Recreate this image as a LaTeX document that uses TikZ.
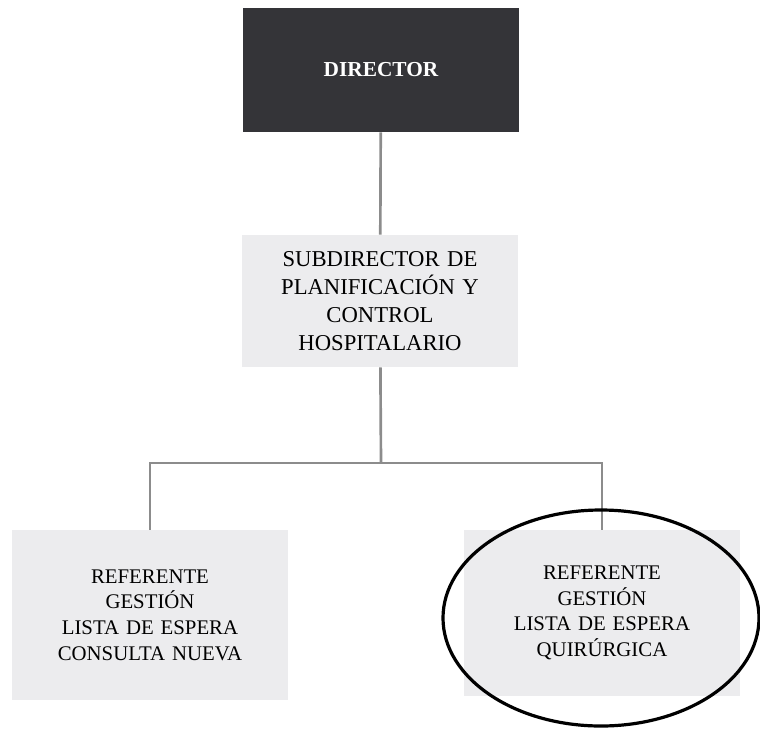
\documentclass[tikz,border=0pt]{standalone}
\usepackage{fontspec}
\setmainfont{Liberation Serif}
\usepackage{xcolor}
\usepackage{tikz}
\usetikzlibrary{shapes,arrows,positioning,calc}
\definecolor{dirgray}{RGB}{52,52,56}
\definecolor{boxgray}{RGB}{236,236,238}
\definecolor{linegray}{RGB}{140,140,140}
\tikzset{
    jefe/.style={rectangle, fill=dirgray, text=white, font=\fontsize{16}{19}\selectfont\bfseries, minimum width=207pt, minimum height=93pt, text centered},
    unidad/.style={rectangle, fill=boxgray, font=\fontsize{17}{21.2}\selectfont, text width=200pt, align=center, minimum width=206pt, minimum height=99pt},
    referente/.style={rectangle, fill=boxgray, font=\fontsize{15.6}{19.2}\selectfont, text width=200pt, align=center, minimum width=206pt, minimum height=127pt},
    line/.style={draw=linegray, line width=2pt},
    marca/.style={ellipse, draw=black, line width=2.4pt, minimum width=237pt, minimum height=162pt}
}
\begin{document}
\begin{tikzpicture}[x=0.75pt,y=-0.75pt]
    \useasboundingbox (0,0) rectangle (760,729);

    % Top of the chart
    \node [jefe] (dir) at (381,70) {DIRECTOR};
    \node [unidad] (sub) at (380,301) {SUBDIRECTOR DE\\PLANIFICACIÓN Y\\CONTROL\\HOSPITALARIO};

    % Referents
    \node [referente] (consulta) at (150,615) {REFERENTE\\GESTIÓN\\LISTA DE ESPERA\\CONSULTA NUEVA};
    \node [referente, minimum height=124pt] (quirurgica) at (602,613) {REFERENTE\\GESTIÓN\\LISTA DE ESPERA\\QUIRÚRGICA};

    % Lines
    \coordinate (bus) at (381,463);
    \path [line] (dir) -- (sub);
    \path [line] (sub) -- (bus);
    \path [line] (bus) -| (consulta.north);
    \path [line] (bus) -| (quirurgica.north);

    % Highlight
    \node [marca] (circ) at (601,618) {};
\end{tikzpicture}
\end{document}
